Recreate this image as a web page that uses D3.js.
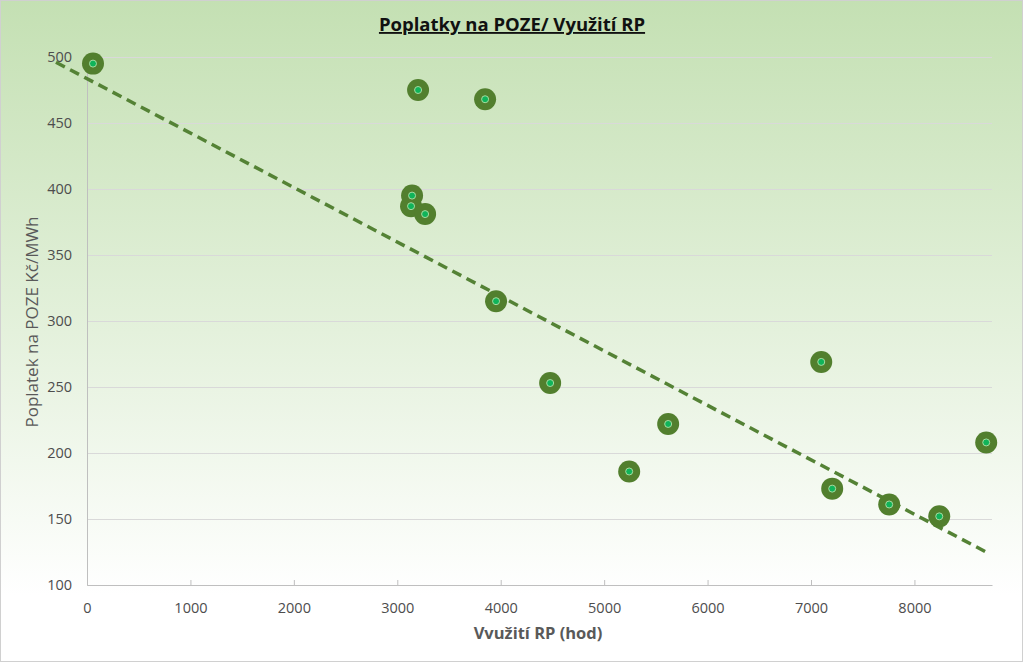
<!DOCTYPE html>
<html>
<head>
<meta charset="utf-8">
<script src="https://cdn.jsdelivr.net/npm/d3@7"></script>
<style>
  body { margin: 0; background: #fff; }
  text { font-family: "Open Sans", sans-serif; }
</style>
</head>
<body>
<div id="chart"></div>
<script>
// data
var hours = [58, 3201, 3849, 3143, 3133, 3269, 3955, 4478, 5242, 5619, 7099, 7205, 7756, 8240, 8694];
var fees  = [495, 475, 468, 395, 387, 381, 315, 253, 186, 222, 269, 173, 161, 152, 208];
var xTicks = [0, 1000, 2000, 3000, 4000, 5000, 6000, 7000, 8000];
var yTicks = [100, 150, 200, 250, 300, 350, 400, 450, 500];
// trendline as drawn (start / end)
var trendX = [-300, 8717];
var trendY = [496, 124];

var svgWidth = 1024;
var svgHeight = 663;

var margin = { top: 57, right: 32, bottom: 78, left: 87 };
var width = svgWidth - margin.left - margin.right;
var height = svgHeight - margin.top - margin.bottom;

var svg = d3.select("#chart")
  .append("svg")
  .attr("width", svgWidth)
  .attr("height", svgHeight);

// background gradient
var grad = svg.append("defs").append("linearGradient")
  .attr("id", "bg")
  .attr("x1", 0).attr("y1", 0).attr("x2", 0).attr("y2", 1);
grad.append("stop").attr("offset", "0%").attr("stop-color", "#c4e0b3");
grad.append("stop").attr("offset", "50%").attr("stop-color", "#e4f1dc");
grad.append("stop").attr("offset", "90%").attr("stop-color", "#ffffff");

svg.append("rect")
  .attr("x", 0.5).attr("y", 0.5)
  .attr("width", svgWidth - 2).attr("height", svgHeight - 2)
  .attr("fill", "url(#bg)")
  .attr("stroke", "#d0d0d0");

var chartGroup = svg.append("g")
  .attr("transform", `translate(${margin.left}, ${margin.top})`);

var xScale = d3.scaleLinear().domain([0, 8750]).range([0, width]);
var yScale = d3.scaleLinear().domain([100, 500]).range([height, 0]);

// gridlines
chartGroup.append("g")
  .call(d3.axisLeft(yScale).tickValues(yTicks).tickSize(-width).tickFormat(""))
  .call(g => g.select(".domain").remove())
  .call(g => g.selectAll("line").attr("stroke", "#d9d9d9"));

// y axis
var yAxis = chartGroup.append("g")
  .call(d3.axisLeft(yScale).tickValues(yTicks).tickSize(0).tickPadding(15).tickFormat(d3.format("d")));
yAxis.select(".domain").attr("stroke", "#bfbfbf");
yAxis.selectAll("text")
  .attr("fill", "#4d4d4d")
  .attr("font-size", "14.5px");

// x axis
var xAxis = chartGroup.append("g")
  .attr("transform", `translate(0, ${height})`)
  .call(d3.axisBottom(xScale).tickValues(xTicks).tickSizeInner(-5).tickSizeOuter(0).tickPadding(18).tickFormat(d3.format("d")));
xAxis.select(".domain").attr("stroke", "#bfbfbf");
xAxis.selectAll("line").attr("stroke", "#bfbfbf");
xAxis.selectAll("text")
  .attr("fill", "#4d4d4d")
  .attr("font-size", "14.5px");

// trendline
var trend = trendX.map((x, i) => [x, trendY[i]]);
chartGroup.append("path")
  .datum(trend)
  .attr("fill", "none")
  .attr("stroke", "#548235")
  .attr("stroke-width", 3.5)
  .attr("stroke-dasharray", "10,6")
  .attr("d", d3.line().x(d => xScale(d[0])).y(d => yScale(d[1])));

// markers
var points = hours.map((h, i) => ({ x: h, y: fees[i] }));

chartGroup.selectAll(".outer")
  .data(points)
  .enter()
  .append("circle")
  .attr("class", "outer")
  .attr("cx", d => xScale(d.x))
  .attr("cy", d => yScale(d.y))
  .attr("r", 11)
  .attr("fill", "#527f2e");

chartGroup.selectAll(".inner")
  .data(points)
  .enter()
  .append("circle")
  .attr("class", "inner")
  .attr("cx", d => xScale(d.x))
  .attr("cy", d => yScale(d.y))
  .attr("r", 3.5)
  .attr("fill", "#10b45a")
  .attr("stroke", "#a8dca0")
  .attr("stroke-width", 1);

// title
svg.append("text")
  .attr("x", 512)
  .attr("y", 31)
  .attr("text-anchor", "middle")
  .attr("font-size", "18.5px")
  .attr("font-weight", "bold")
  .attr("fill", "#111")
  .attr("text-decoration", "underline")
  .text("Poplatky na POZE/ Využití RP");

// axis titles
svg.append("text")
  .attr("x", 538)
  .attr("y", 639)
  .attr("text-anchor", "middle")
  .attr("font-size", "16.5px")
  .attr("font-weight", "bold")
  .attr("fill", "#595959")
  .text("Vvužití RP (hod)");

svg.append("text")
  .attr("transform", "translate(38, 322) rotate(-90)")
  .attr("text-anchor", "middle")
  .attr("font-size", "17px")
  .attr("fill", "#595959")
  .text("Poplatek na POZE Kč/MWh");
</script>
</body>
</html>
